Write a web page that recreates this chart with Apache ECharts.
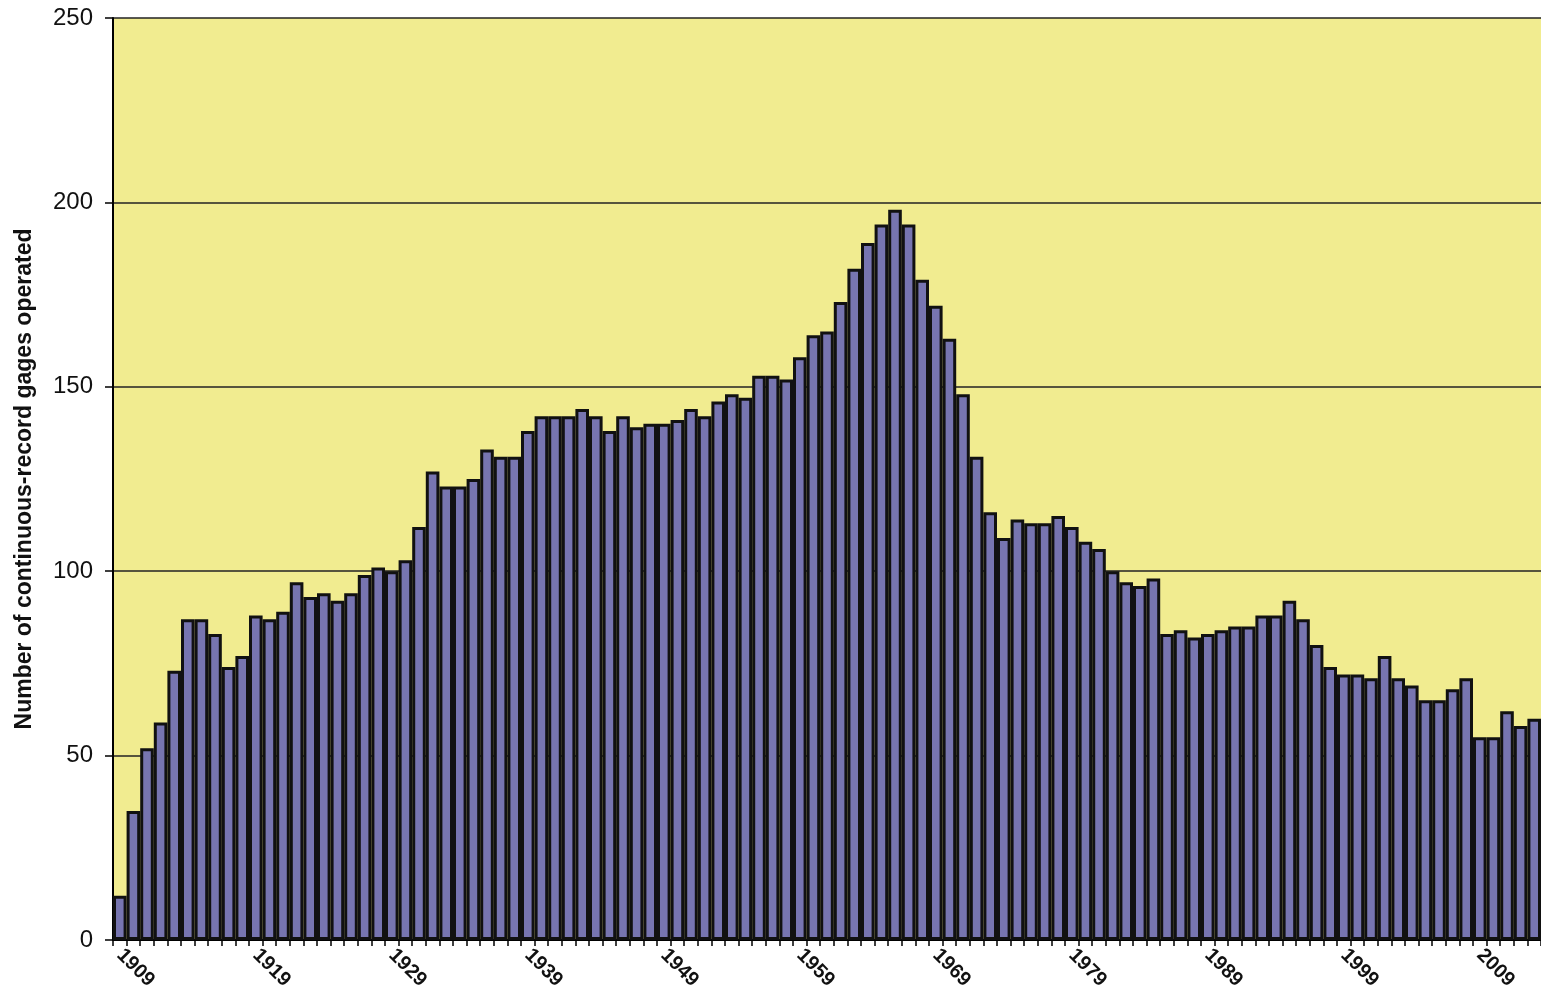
<!DOCTYPE html>
<html>
<head>
<meta charset="utf-8">
<script src="https://cdn.jsdelivr.net/npm/echarts@6/dist/echarts.min.js"></script>
<style>
html,body{margin:0;padding:0;background:#fff;}
#chart{width:1541px;height:998px;}
</style>
</head>
<body>
<div id="chart"></div>
<script>
const years = [];
for (let y = 1909; y <= 2013; y++) years.push(String(y));

const gages = [
  12, 35, 52, 59, 73, 87, 87, 83, 74, 77,          // 1909-1918
  88, 87, 89, 97, 93, 94, 92, 94, 99, 101,         // 1919-1928
  100, 103, 112, 127, 123, 123, 125, 133, 131, 131, // 1929-1938
  138, 142, 142, 142, 144, 142, 138, 142, 139, 140, // 1939-1948
  140, 141, 144, 142, 146, 148, 147, 153, 153, 152, // 1949-1958
  158, 164, 165, 173, 182, 189, 194, 198, 194, 179, // 1959-1968
  172, 163, 148, 131, 116, 109, 114, 113, 113, 115, // 1969-1978
  112, 108, 106, 100, 97, 96, 98, 83, 84, 82,       // 1979-1988
  83, 84, 85, 85, 88, 88, 92, 87, 80, 74,           // 1989-1998
  72, 72, 71, 77, 71, 69, 65, 65, 68, 71,           // 1999-2008
  55, 55, 62, 58, 60                                // 2009-2013
];

const yTicks = { min: 0, max: 250, interval: 50 };
const yTitle = 'Number of continuous-record gages operated';

const chart = echarts.init(document.getElementById('chart'));
chart.setOption({
  backgroundColor: '#ffffff',
  animation: false,
  grid: {
    left: 113, top: 18, bottom: 58, right: -9.5,
    show: true, backgroundColor: '#f1ec90', borderWidth: 0
  },
  xAxis: {
    type: 'category',
    data: years,
    boundaryGap: true,
    axisLine: { show: true, lineStyle: { color: '#000', width: 2 } },
    axisTick: { show: true, interval: 0, length: 6, lineStyle: { color: '#000', width: 1.5 } },
    axisLabel: {
      interval: 9, rotate: -45, margin: 12,
      fontFamily: 'Liberation Sans, Arial, sans-serif',
      fontSize: 20, fontWeight: 'bold', color: '#111'
    },
    splitLine: { show: false }
  },
  yAxis: {
    type: 'value',
    min: yTicks.min, max: yTicks.max, interval: yTicks.interval,
    name: yTitle,
    nameLocation: 'middle',
    nameGap: 77,
    nameRotate: 90,
    nameTextStyle: {
      fontFamily: 'Liberation Sans, Arial, sans-serif',
      fontSize: 23, fontWeight: 'bold', color: '#111'
    },
    axisLine: { show: true, lineStyle: { color: '#000', width: 2 } },
    axisTick: { show: true, length: 8, lineStyle: { color: '#000', width: 1.5 } },
    axisLabel: {
      margin: 20,
      fontFamily: 'Liberation Sans, Arial, sans-serif',
      fontSize: 24, color: '#111'
    },
    splitLine: { show: true, lineStyle: { color: '#222', width: 1.5 } }
  },
  series: [{
    type: 'bar',
    data: gages,
    barCategoryGap: '0%',
    itemStyle: { color: '#7775b0', borderColor: '#111', borderWidth: 3 }
  }]
});
</script>
</body>
</html>
